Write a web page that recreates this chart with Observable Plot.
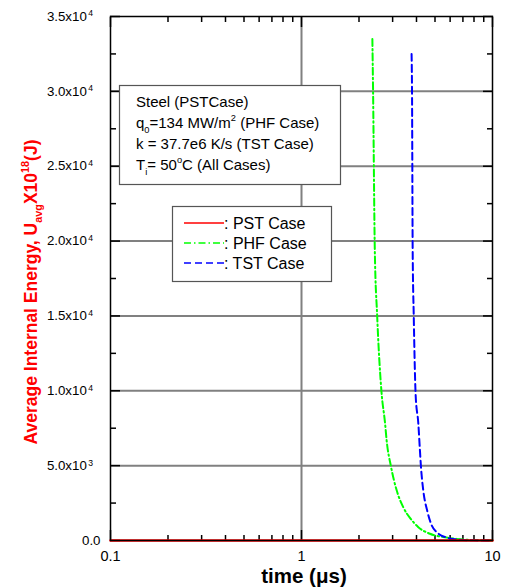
<!DOCTYPE html>
<html>
<head>
<meta charset="utf-8">
<script src="https://cdn.jsdelivr.net/npm/d3@7"></script>
<script src="https://cdn.jsdelivr.net/npm/@observablehq/plot@0.6"></script>
<style>
  html, body { margin: 0; padding: 0; background: #fff; }
  #chart { width: 508px; height: 588px; }
  svg { font-family: "Liberation Sans", Arial, sans-serif; }
</style>
</head>
<body>
<div id="chart"></div>
<script>
// ---- data ----
const tPST = [0.1, 10];
const uPST = [0, 0];

const tPHF = [2.35, 2.37, 2.42, 2.49, 2.62, 2.74, 2.79, 2.94, 3.15, 3.41, 3.73, 4.09, 4.70, 5.75, 7.0, 10];
const uPHF = [33500, 30000, 19400, 15000, 10000, 7800, 6700, 4950, 3350, 2220, 1450, 890, 450, 200, 70, 5];

const tTST = [3.77, 3.79, 3.82, 3.87, 3.96, 4.09, 4.17, 4.22, 4.34, 4.55, 4.76, 5.20, 5.75, 6.49, 8.0, 10];
const uTST = [32500, 30000, 19400, 15000, 9700, 7800, 6000, 4950, 3350, 2000, 1140, 470, 200, 70, 10, 0];

const yMajor = [0, 5000, 10000, 15000, 20000, 25000, 30000, 35000];
const yTickLabels = ["0.0", "5.0x10^3", "1.0x10^4", "1.5x10^4", "2.0x10^4", "2.5x10^4", "3.0x10^4", "3.5x10^4"];
const yMinor = [2500, 7500, 12500, 17500, 22500, 27500, 32500];
const yGrid = [5000, 10000, 15000, 20000, 25000, 30000];
const xMajor = [0.1, 1, 10];
const xTickLabels = ["0.1", "1", "10"];
const xMinor = [0.2, 0.3, 0.4, 0.5, 0.6, 0.7, 0.8, 0.9, 2, 3, 4, 5, 6, 7, 8, 9];
const xGrid = [1];

const seriesNames = ["PST Case", "PHF Case", "TST Case"];
const seriesColors = ["#ff0000", "#00ff00", "#0000ff"];
const seriesDash = [null, "7,3,1.5,3", "7,4"];

const rows = (ts, us) => ts.map((t, i) => ({t, u: us[i]}));
const pst = rows(tPST, uPST), phf = rows(tPHF, uPHF), tst = rows(tTST, uTST);

const noText = () => "";
const svg = Plot.plot({
  width: 508,
  height: 588,
  marginLeft: 110,
  marginRight: 16,
  marginTop: 16,
  marginBottom: 48,
  style: {fontFamily: '"Liberation Sans", Arial, sans-serif', fontSize: "13.3px", color: "#000", background: "#fff"},
  x: {type: "log", domain: [0.1, 10]},
  y: {domain: [0, 35000]},
  marks: [
    Plot.ruleY(yGrid, {stroke: "#808080", strokeWidth: 2}),
    Plot.ruleX(xGrid, {stroke: "#808080", strokeWidth: 2}),
    // inward ticks
    Plot.axisY({ticks: yMajor, anchor: "left", tickSize: 10, dx: 10, tickFormat: noText, label: null, strokeWidth: 1.5}),
    Plot.axisY({ticks: yMinor, anchor: "left", tickSize: 6, dx: 6, tickFormat: noText, label: null, strokeWidth: 1.5}),
    Plot.axisY({ticks: yMajor, anchor: "right", tickSize: 10, dx: -10, tickFormat: noText, label: null, strokeWidth: 1.5}),
    Plot.axisY({ticks: yMinor, anchor: "right", tickSize: 6, dx: -6, tickFormat: noText, label: null, strokeWidth: 1.5}),
    Plot.axisX({ticks: xMajor, anchor: "bottom", tickSize: 10, dy: -10, tickFormat: noText, label: null, strokeWidth: 1.5}),
    Plot.axisX({ticks: xMinor, anchor: "bottom", tickSize: 5, dy: -5, tickFormat: noText, label: null, strokeWidth: 1.5}),
    Plot.axisX({ticks: xMajor, anchor: "top", tickSize: 10, dy: 10, tickFormat: noText, label: null, strokeWidth: 1.5}),
    Plot.axisX({ticks: xMinor, anchor: "top", tickSize: 5, dy: 5, tickFormat: noText, label: null, strokeWidth: 1.5}),
    // tick labels
    Plot.axisY({ticks: yMajor, anchor: "left", tickSize: 0, tickPadding: 10, label: null,
      tickFormat: d => yTickLabels[yMajor.indexOf(d)], fontSize: 13.3}),
    Plot.axisX({ticks: xMajor, anchor: "bottom", tickSize: 0, tickPadding: 10, label: null,
      tickFormat: d => xTickLabels[xMajor.indexOf(d)], fontSize: 14.5}),
    // series
    Plot.line(phf, {x: "t", y: "u", stroke: seriesColors[1], strokeWidth: 2, strokeDasharray: seriesDash[1], curve: "monotone-x"}),
    Plot.line(tst, {x: "t", y: "u", stroke: seriesColors[2], strokeWidth: 2, strokeDasharray: seriesDash[2], curve: "monotone-x"}),
    Plot.line(pst, {x: "t", y: "u", stroke: seriesColors[0], strokeWidth: 2.5}),
    Plot.frame({stroke: "#000", strokeWidth: 1.5})
  ]
});

const root = d3.select(svg);

// tick label sizing + superscripts in y tick labels
root.selectAll('g[aria-label="y-axis tick label"]').attr("font-size", 13.3);
root.selectAll('g[aria-label="x-axis tick label"]').attr("font-size", 14.5);
root.selectAll('g[aria-label="y-axis tick label"] text').each(function() {
  const s = this.textContent;
  if (s.includes("^")) {
    const [base, exp] = s.split("^");
    this.textContent = base;
    const t = d3.select(this);
    t.append("tspan").attr("dx", 1.5).attr("dy", "-0.5em").attr("font-size", "0.65em").text(exp);
    t.append("tspan").attr("font-size", "1em").text("\u00a0\u00a0");
  }
});

// rich text helper with absolute px shifts
function richPx(sel, parts, fs) {
  let shift = 0;
  parts.forEach(([str, kind]) => {
    const target = kind === "sub" ? 0.3 * fs : kind === "sup" ? -0.45 * fs : 0;
    const ts = sel.append("tspan").text(str);
    const d = target - shift;
    if (d !== 0) ts.attr("dy", d.toFixed(2));
    if (kind !== "n") ts.attr("font-size", (0.62 * fs).toFixed(2));
    shift = target;
  });
}

// y axis title
{
  const fs = 17.5;
  const t = root.append("text")
    .attr("transform", "translate(36.5,292) rotate(-90)")
    .attr("text-anchor", "middle")
    .attr("fill", "#ff0000")
    .attr("font-weight", "bold")
    .attr("font-size", fs);
  richPx(t, [["Average Internal Energy, U", "n"], ["avg", "sub"], ["X10", "n"], ["18", "sup"], ["(J)", "n"]], fs);
}

// x axis title
root.append("text")
  .attr("x", 304).attr("y", 583)
  .attr("text-anchor", "middle")
  .attr("font-weight", "bold")
  .attr("font-size", 20.5)
  .attr("fill", "#000")
  .text("time (\u03bcs)");

// info box
{
  const g = root.append("g").attr("text-anchor", "start");
  g.append("rect").attr("x", 119.5).attr("y", 85.5).attr("width", 221).attr("height", 99)
    .attr("fill", "#fff").attr("stroke", "#555").attr("stroke-width", 1.2);
  const fs = 15;
  const lines = [
    [["Steel (PSTCase)", "n"]],
    [["q", "n"], ["0", "sub"], ["=134 MW/m", "n"], ["2", "sup"], [" (PHF Case)", "n"]],
    [["k = 37.7e6 K/s (TST Case)", "n"]],
    [["T", "n"], ["i", "sub"], ["= 50", "n"], ["o", "sup"], ["C (All Cases)", "n"]]
  ];
  const baselines = [107, 128, 149, 170];
  lines.forEach((parts, i) => {
    const t = g.append("text").attr("x", 136).attr("y", baselines[i])
      .attr("text-anchor", "start")
      .attr("font-size", fs).attr("fill", "#000");
    richPx(t, parts, fs);
  });
}

// legend box
{
  const g = root.append("g").attr("text-anchor", "start");
  g.append("rect").attr("x", 172.5).attr("y", 206.5).attr("width", 159).attr("height", 75)
    .attr("fill", "#fff").attr("stroke", "#555").attr("stroke-width", 1.2);
  const rowsY = [223, 243, 263];
  seriesNames.forEach((name, i) => {
    g.append("line").attr("x1", 184).attr("x2", 224).attr("y1", rowsY[i]).attr("y2", rowsY[i])
      .attr("stroke", seriesColors[i]).attr("stroke-width", 1.5)
      .attr("stroke-dasharray", seriesDash[i]);
    g.append("text").attr("x", 224).attr("y", rowsY[i] + 6)
      .attr("text-anchor", "start")
      .attr("font-size", 16).attr("fill", "#000").text(": " + name);
  });
}

document.getElementById("chart").appendChild(svg);
</script>
</body>
</html>
